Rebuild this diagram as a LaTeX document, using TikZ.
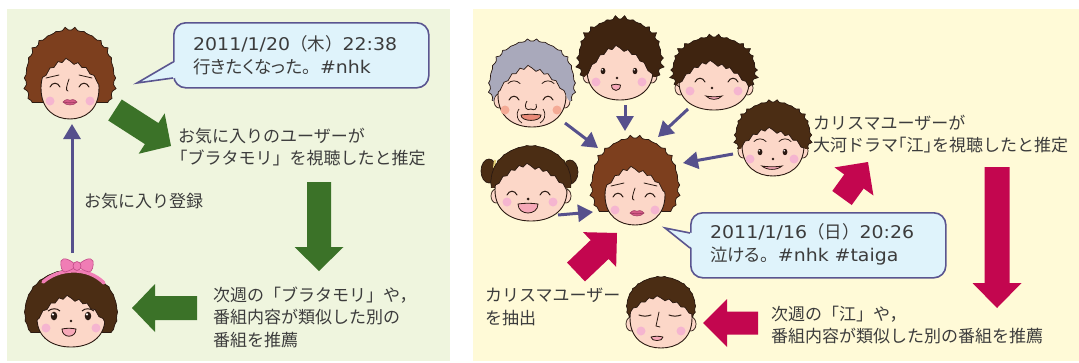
\documentclass[tikz,border=0pt]{standalone}
\usepackage{fontspec}
\setmainfont{Noto Sans CJK JP}
\newfontfamily\jpprop{Noto Sans CJK JP}[RawFeature=+palt]
\newfontfamily\latinf{DejaVu Sans}[FakeStretch=1.08]
\usetikzlibrary{calc,arrows.meta}

\definecolor{bgL}{HTML}{EFF5DE}
\definecolor{bgR}{HTML}{FFFAD7}
\definecolor{arrG}{HTML}{3B7228}
\definecolor{arrR}{HTML}{C3064F}
\definecolor{arrP}{HTML}{56508C}
\definecolor{bubF}{HTML}{DFF3FB}
\definecolor{bubD}{HTML}{5A5590}
\definecolor{txt}{HTML}{3C3C3C}
\definecolor{ink}{HTML}{2B1A12}
\definecolor{hairA}{HTML}{7D3F1E}
\definecolor{hairB}{HTML}{3F2410}
\definecolor{hairC}{HTML}{4B2D14}
\definecolor{hairG}{HTML}{A9A9BB}
\definecolor{skin}{HTML}{FCD7C8}
\definecolor{blush}{HTML}{F5B5D0}
\definecolor{blushO}{HTML}{F4AA95}
\definecolor{bowc}{HTML}{F07DB5}
\definecolor{bowd}{HTML}{C04A86}
\definecolor{lipc}{HTML}{D35A86}
\definecolor{lipd}{HTML}{9C3A60}
\definecolor{lipE}{HTML}{E98A78}
\definecolor{mouthP}{HTML}{F6A8B8}
\definecolor{tie}{HTML}{E7D27A}

\tikzset{
  lbl/.style={text=txt, inner sep=0pt, align=left, font=\fontsize{17}{22.5}\selectfont},
  btxt/.style={text=txt, inner sep=0pt, align=left, font=\jpprop\fontsize{17.5}{23}\selectfont},
  bubble/.style={draw=bubD, fill=bubF, line width=1.6pt, rounded corners=12pt, inner sep=0pt},
  parr/.style={draw=arrP, line width=3pt, -{Triangle[width=17pt,length=15pt]}},
}
% Latin runs and full-width punctuation inside the speech bubbles
\newcommand\lt[1]{{\latinf\fontsize{17.5}{23}\selectfont #1}}
\newcommand\fw[1]{{\rmfamily #1}}

% face parameters
\pgfkeys{/face/.is family, /face/.cd,
  rx/.store in=\fRX, ry/.store in=\fRY,
  hy/.store in=\fHY, hrx/.store in=\fHRX, hry/.store in=\fHRY,
  jag/.store in=\fJag, cut/.store in=\fCut,
  fy/.store in=\fFY, fk/.store in=\fFK, fj/.store in=\fFJ,
  hair/.store in=\fHair, ears/.store in=\fEars,
  back/.store in=\fBack, front/.store in=\fFront}

% hair outline: ellipse with irregular pointed tufts
\newcommand\hairshape{plot[domain=0:356,samples=90,variable=\t]
  ({\fHRX*(1+\fJag*ifthenelse(mod(round(\t/4),3)==0,0.55+0.45*sin(\t*37),0))*cos(\t)},
   {\fHY+\fHRY*(1+\fJag*ifthenelse(mod(round(\t/4),3)==0,0.55+0.45*sin(\t*37),0))*sin(\t)}) -- cycle}
\newcommand\fringeline{plot[domain=-60:60,samples=31,variable=\u]
  ({\u},{\fFY+\fFK*\u*\u+\fFJ*mod(round(\u/4),2)})}
\newcommand\faceshape{(-\fRX,0) .. controls (-\fRX,{0.72*\fRY}) and ({-0.5*\fRX},\fRY) .. (0,\fRY)
  .. controls ({0.5*\fRX},\fRY) and (\fRX,{0.72*\fRY}) .. (\fRX,0)
  .. controls (\fRX,{-0.6*\fRY}) and ({0.6*\fRX},-\fRY) .. (0,-\fRY)
  .. controls ({-0.6*\fRX},-\fRY) and (-\fRX,{-0.6*\fRY}) .. cycle}

\newcommand\drawface[3]{%
 \begin{scope}[shift={(#2)}]
  \pgfkeys{/face/.cd, rx=30, ry=30, hy=-12, hrx=40, hry=40, jag=0.05, cut=100,
    fy=-22, fk=0.02, fj=3, hair=hairA, ears=1, back=, front=, #3}
  \coordinate (#1) at (0,0);
  \fBack
  \begin{scope}
   \clip (-90,-100) rectangle (90,\fCut);
   \fill[\fHair] \hairshape;
  \end{scope}
  \pgfmathsetmacro\fCX{\fHRX*sqrt(max(0,1-((\fCut-\fHY)/\fHRY)^2))}
  \draw[ink, line width=.7] (-\fCX,\fCut) -- (\fCX,\fCut);
  \ifnum\fEars=1
   \filldraw[fill=skin, draw=ink, line width=.7] (-\fRX+1,6) ellipse (5 and 7);
   \filldraw[fill=skin, draw=ink, line width=.7] (\fRX-1,6) ellipse (5 and 7);
  \fi
  \filldraw[fill=skin, draw=ink, line width=.9] \faceshape;
  \begin{scope}
   \clip (-90,-100) rectangle (90,\fCut);
   \clip \hairshape;
   \clip \fringeline -- (60,-100) -- (-60,-100) -- cycle;
   \fill[\fHair] (-90,-100) rectangle (90,90);
  \end{scope}
  \begin{scope}
   \clip \faceshape;
   \draw[ink, line width=.7] \fringeline;
  \end{scope}
  \begin{scope}
   \clip (-90,-100) rectangle (90,\fCut);
   \draw[ink, line width=.7, line join=miter] \hairshape;
  \end{scope}
  \fFront
 \end{scope}}

% facial features
\newcommand\eyeC[2]{\draw[ink,line width=1,line cap=round] (#1-5,#2+2) .. controls (#1-3,#2-3) and (#1+3,#2-3) .. (#1+5,#2+2);}
\newcommand\eyeO[3]{\fill[ink] (#1,#2) ellipse ({2.4*#3} and {3.2*#3});
  \fill[white] (#1-0.8*#3,#2-1.2*#3) circle ({0.9*#3});}
\newcommand\eyeL[2]{\draw[ink,line width=1,line cap=round] (#1-6,#2) .. controls (#1-2,#2+1.5) and (#1+2,#2+1.5) .. (#1+6,#2);}
\newcommand\brow[2]{\draw[ink,line width=.8,line cap=round] (#1-6,#2+1.5) .. controls (#1-3,#2-2) and (#1+3,#2-2) .. (#1+6,#2+1.5);}
\newcommand\cheeks[5]{\fill[#5] (#1,#2) circle (4.5); \fill[#5] (#3,#4) circle (4.5);}
\newcommand\nosedot[2]{\fill[ink] (#1,#2) circle (1.3);}
\newcommand\mouthO[5]{\filldraw[fill=#5, draw=ink, line width=.8, line join=round]
  (#1-#3,#2) .. controls (#1-#3/3,#2-1) and (#1+#3/3,#2-1) .. (#1+#3,#2)
  .. controls (#1+#3,#2+#4*1.2) and (#1-#3,#2+#4*1.2) .. cycle;}
\newcommand\smilem[3]{\filldraw[fill=mouthP, draw=ink, line width=.8]
  (#1-#3,#2) .. controls (#1-#3/2,#2+1) and (#1+#3/2,#2+1) .. (#1+#3,#2)
  .. controls (#1+#3/2,#2+4.5) and (#1-#3/2,#2+4.5) .. cycle;}
\newcommand\lips[2]{\filldraw[fill=lipc, draw=lipd, line width=.5]
  (#1-7,#2) .. controls (#1-4,#2-3.5) and (#1-1,#2-2.5) .. (#1,#2-1.8)
  .. controls (#1+1,#2-2.5) and (#1+4,#2-3.5) .. (#1+7,#2)
  .. controls (#1+4,#2+4) and (#1-4,#2+4) .. cycle;
  \draw[lipd, line width=.6] (#1-7,#2) .. controls (#1-2,#2+1) and (#1+2,#2+1) .. (#1+7,#2);}

% broad arrow: colour, from, to, half shaft, half head, head length
\newcommand\fatarrow[6]{%
  \path ($(#3)!#6!(#2)$) coordinate (fah);
  \fill[#1] ($(#2)!#4!90:(#3)$) -- ($(fah)!#4!90:(#3)$) -- ($(fah)!#5!90:(#3)$) -- (#3)
    -- ($(fah)!#5!-90:(#3)$) -- ($(fah)!#4!-90:(#3)$) -- ($(#2)!#4!-90:(#3)$) -- cycle;}

\begin{document}
\begin{tikzpicture}[x=1pt,y=-1pt]
\useasboundingbox (0,0) rectangle (1079,362);
\fill[white] (0,0) rectangle (1079,362);
\fill[bgL] (7,9) rectangle (450,361);
\fill[bgR] (473,9) rectangle (1079,361);

% ---------- left panel ----------
\drawface{w1}{70,88}{rx=29, ry=31, hy=-10, hrx=44, hry=48, cut=14, fy=-27, fk=0.025, jag=0.07, hair=hairA, ears=0,
  front={\cheeks{-20}{13}{20}{13}{blush}
   \draw[ink,line width=.8,line cap=round] (-24,-10) -- (-11,-13);
   \draw[ink,line width=.8,line cap=round] (9,-13) -- (22,-10);
   \eyeC{-15}{-3}\eyeC{14}{-3}
   \draw[ink,line width=.8,line cap=round] (-1,-9) .. controls (-3,-3) and (-5,3) .. (-2,3);
   \lips{0}{14}}}

\drawface{g1}{71,318}{rx=34, ry=29, hy=-6, hrx=46, hry=42, cut=14, fy=-20, fk=0.02, fj=3, jag=0.02, hair=hairC, ears=0,
  front={\cheeks{-25}{10}{25}{10}{blush}
   \draw[ink,line width=1] (-23,-7) .. controls (-19,-10) and (-14,-10) .. (-11,-7);
   \draw[ink,line width=1] (11,-7) .. controls (14,-10) and (19,-10) .. (23,-7);
   \eyeO{-17}{-2}{1.35}\eyeO{17}{-2}{1.35}
   \nosedot{0}{3}
   \mouthO{-2}{11}{7}{8}{mouthP}
   \draw[bowc, line width=3.5, line cap=round] (-28,-36) .. controls (-12,-50) and (16,-52) .. (33,-35);
   \begin{scope}[shift={(6,-52)}]
    \filldraw[fill=bowc, draw=bowd, line width=.6] (0,0) .. controls (-6,-6) and (-14,-10) .. (-16,-5) .. controls (-17,0) and (-15,6) .. (-12,6) .. controls (-8,5) and (-4,3) .. (0,0);
    \filldraw[fill=bowc, draw=bowd, line width=.6] (0,0) .. controls (6,-6) and (14,-10) .. (16,-5) .. controls (17,0) and (15,6) .. (12,6) .. controls (8,5) and (4,3) .. (0,0);
    \filldraw[fill=bowc, draw=bowd, line width=.6] (0,0) ellipse (4 and 4.5);
   \end{scope}}}

% speech bubble, left
\node[bubble, minimum width=255pt, minimum height=65pt, anchor=north west] (bub1) at (173,22) {};
\coordinate (tip1) at (137,83);
\fill[bubF] (tip1) -- (175,62) -- (175,78) -- cycle;
\draw[bubD, line width=1.6pt] (173,62) -- (tip1) -- (173,78);
\node[btxt, anchor=west] (bt1) at (193,55) {\lt{2011/1/20}\fw{（木）}\lt{22:38}\\行きたくなった\fw{。}\lt{\#nhk}};

% broad green arrows
\coordinate (ga1) at (115,110); \coordinate (gb1) at (171,146);
\fatarrow{arrG}{ga1}{gb1}{12.5pt}{24pt}{23pt}
\coordinate (ga2) at (319,182); \coordinate (gb2) at (319,271);
\fatarrow{arrG}{ga2}{gb2}{12pt}{24.5pt}{24pt}
\coordinate (ga3) at (197,308); \coordinate (gb3) at (132,308);
\fatarrow{arrG}{ga3}{gb3}{12pt}{24pt}{23pt}

% registration arrow
\coordinate (ra) at (72,253); \coordinate (rb) at (72,124);
\draw[parr] (ra) -- (rb);

\node[lbl, anchor=west] (t1) at (178,147) {お気に入りのユーザーが\\\hspace*{-0.45em}「ブラタモリ」を視聴したと推定};
\node[lbl, anchor=west] (t2) at (84,201) {お気に入り登録};
\node[lbl, anchor=west] (t3) at (213,317) {次週の「ブラタモリ」や，\\番組内容が類似した別の\\番組を推薦};

% ---------- right panel ----------
\drawface{el}{532,95}{rx=34, ry=32, hy=-12, hrx=42, hry=42, cut=5, fy=-27, fk=0.022, jag=0.06, hair=hairG,
  front={\cheeks{-27}{15}{25}{15}{blushO}
   \brow{-18}{-13}\brow{16}{-13}
   \eyeC{-18}{3}\eyeC{16}{3}
   \draw[ink,line width=.8] (-5,6) .. controls (-9,13) and (-5,16) .. (-1,14) .. controls (2,16) and (6,14) .. (4,9);
   \draw[ink,line width=.7] (-13,14) .. controls (-17,20) and (-14,26) .. (-10,28);
   \draw[ink,line width=.7] (11,14) .. controls (15,20) and (12,26) .. (8,28);
   \mouthO{-1}{20}{10}{6}{lipE}}}

\drawface{b1}{620,70}{rx=33, ry=30, hy=-12, hrx=41, hry=39, cut=6, fy=-22, fk=0.025, jag=0.1, hair=hairB,
  front={\cheeks{-24}{12}{22}{12}{blush}
   \eyeO{-17}{1}{1}\eyeO{15}{1}{1}
   \nosedot{-3}{8}
   \mouthO{-4}{15}{4.5}{6}{mouthP}}}

\drawface{b2}{714,82}{rx=35, ry=28, hy=-12, hrx=41, hry=33, cut=4, fy=-19, fk=0.018, jag=0.1, hair=hairB,
  front={\cheeks{-24}{9}{24}{9}{blush}
   \eyeC{-14}{-2}\eyeC{19}{-2}
   \nosedot{-2}{6}
   \smilem{0}{14}{8}}}

\drawface{b3}{773,145}{rx=31, ry=31, hy=-10, hrx=37, hry=33, cut=3, fy=-15, fk=0.018, jag=0.08, hair=hairC,
  front={\cheeks{-23}{14}{21}{14}{blush}
   \brow{-13}{-5}\brow{12}{-5}
   \eyeO{-13}{7}{1}\eyeO{12}{7}{1}
   \nosedot{0}{14}
   \smilem{-1}{21}{10}}}

\drawface{g2}{531,190}{rx=36, ry=31, hy=-8, hrx=40, hry=36, cut=-3, fy=-24, fk=0.017, jag=0.02, hair=hairC, ears=1,
  back={\filldraw[fill=hairC, draw=ink, line width=.7] (-42,-19) ellipse (8 and 12);
   \filldraw[fill=hairC, draw=ink, line width=.7] (39,-18) ellipse (8 and 12);
   \draw[tie, line width=2] (-36,-30) -- (-37,-22);
   \draw[tie, line width=2] (33,-30) -- (34,-22);},
  front={\cheeks{-24}{12}{22}{12}{blush}
   \eyeC{-19}{3}\eyeC{14}{3}
   \fill[ink] (-3,9) circle (1.5);
   \mouthO{-3}{14}{10}{10}{mouthP}}}

\drawface{w2}{635,195}{rx=30, ry=30, hy=-10, hrx=43, hry=47, cut=16, fy=-26, fk=0.024, jag=0.07, hair=hairA, ears=0,
  front={\cheeks{-20}{15}{20}{15}{blush}
   \draw[ink,line width=.8,line cap=round] (-24,-9) -- (-11,-12);
   \draw[ink,line width=.8,line cap=round] (9,-12) -- (22,-9);
   \eyeC{-17}{0}\eyeC{15}{0}
   \draw[ink,line width=.8,line cap=round] (0,-7) .. controls (-2,-1) and (-4,5) .. (-1,5);
   \lips{2}{18}}}

\drawface{b4}{661,318}{rx=31, ry=30, hy=-12, hrx=34, hry=29, cut=-2, fy=-20, fk=0.016, jag=0.03, fj=2.5, hair=hairC,
  front={\cheeks{-20}{13}{20}{13}{blush}
   \eyeL{-16}{-3}\eyeL{14}{-3}
   \draw[ink,line width=.8,line cap=round] (-2,-6) -- (-5,8) -- (-1,9);
   \mouthO{-4}{19}{6}{4}{mouthP}}}

% arrows towards the central user
\coordinate (pa1) at (565,123); \coordinate (pb1) at (598,148);
\coordinate (pa2) at (625,105); \coordinate (pb2) at (625,131);
\coordinate (pa3) at (688,109); \coordinate (pb3) at (658,137);
\coordinate (pa4) at (733,154); \coordinate (pb4) at (683,163);
\coordinate (pa5) at (558,215); \coordinate (pb5) at (593,212);
\draw[parr] (pa1) -- (pb1);
\draw[parr] (pa2) -- (pb2);
\draw[parr] (pa3) -- (pb3);
\draw[parr] (pa4) -- (pb4);
\draw[parr] (pa5) -- (pb5);

% speech bubble, right
\node[bubble, minimum width=255pt, minimum height=65pt, anchor=north west] (bub2) at (690,212) {};
\coordinate (tip2) at (665,228);
\fill[bubF] (tip2) -- (692,233) -- (692,248) -- cycle;
\draw[bubD, line width=1.6pt] (690,233) -- (tip2) -- (690,248);
\node[btxt, anchor=west] (bt2) at (710,244) {\lt{2011/1/16}\fw{（日）}\lt{20:26}\\泣ける\fw{。}\lt{\#nhk \#taiga}};

% broad crimson arrows
\coordinate (ca1) at (576,272); \coordinate (cb1) at (617,233);
\fatarrow{arrR}{ca1}{cb1}{13pt}{24pt}{24pt}
\coordinate (ca2) at (842,198); \coordinate (cb2) at (868,162);
\fatarrow{arrR}{ca2}{cb2}{12pt}{24pt}{24pt}
\coordinate (ca3) at (997,167); \coordinate (cb3) at (997,308);
\fatarrow{arrR}{ca3}{cb3}{12.5pt}{24.5pt}{25pt}
\coordinate (ca4) at (758,323); \coordinate (cb4) at (703,323);
\fatarrow{arrR}{ca4}{cb4}{11.5pt}{24pt}{24pt}

\node[lbl, anchor=west] (t4) at (813,134) {カリスマユーザーが\\大河ドラマ\hspace{-0.5em}「江」\hspace{-0.5em}を視聴したと推定};
\node[lbl, anchor=west] (t5) at (485,307) {カリスマユーザー\\を抽出};
\node[lbl, anchor=west] (t6) at (771,325) {次週の「江」や，\\番組内容が類似した別の番組を推薦};
\end{tikzpicture}
\end{document}
